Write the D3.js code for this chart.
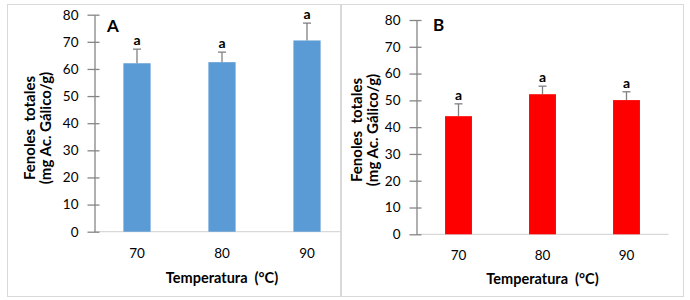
<!DOCTYPE html>
<meta charset="utf-8">
<script src="https://d3js.org/d3.v7.min.js"></script>
<style>
  body { margin: 0; background: #fff; }
  svg text { font-family: Lato, "Open Sans", sans-serif; }
</style>
<body>
<div id="canvas"></div>
<script>
  // datos
  var categorias = ["70", "80", "90"];
  var valoresA = [62.1, 62.5, 70.5];
  var erroresA = [5.2, 3.7, 6.4];
  var valoresB = [44.1, 52.3, 50.1];
  var erroresB = [4.6, 3.0, 3.1];
  var letrasA = ["a", "a", "a"];
  var letrasB = ["a", "a", "a"];
  var yTicks = [0, 10, 20, 30, 40, 50, 60, 70, 80];

  var width = 690, height = 300;

  var svg = d3.select('#canvas')
    .append("svg")
    .attr("width", width)
    .attr("height", height);

  // cada panel: caja, eje y, barras
  var paneles = [
    { letra: "A", valores: valoresA, errores: erroresA, letras: letrasA, color: "#5B9BD5",
      box: [7, 4, 340, 296], x0: 94.5, x1: 349.5, y0: 231.7, y1: 14.7, axisEnd: 340,
      titY1: 35, titY2: 51, titCy: 128, xLabY: 258, xTitY: 283, letraX: 107, letraY: 32 },
    { letra: "B", valores: valoresB, errores: erroresB, letras: letrasB, color: "#FF0000",
      box: [341, 4, 683, 296], x0: 416.5, x1: 668.5, y0: 234.3, y1: 20, axisEnd: 668.5,
      titY1: 362, titY2: 378, titCy: 130, xLabY: 260, xTitY: 284, letraX: 433, letraY: 31 }
  ];

  paneles.forEach(function(p) {
    var g = svg.append("g");

    // borde
    g.append("rect")
      .attr("x", p.box[0] + 0.5).attr("y", p.box[1] + 0.5)
      .attr("width", p.box[2] - p.box[0]).attr("height", p.box[3] - p.box[1])
      .attr("fill", "none").attr("stroke", "#d9d9d9");

    var x = d3.scaleBand()
      .domain(categorias)
      .range([p.x0, p.x1])
      .paddingInner(0.68)
      .paddingOuter(0.34);

    var y = d3.scaleLinear()
      .domain([0, 80])
      .range([p.y0, p.y1]);

    // eje x (linea gris clara)
    g.append("line")
      .attr("x1", p.x0).attr("x2", p.axisEnd)
      .attr("y1", y(0)).attr("y2", y(0))
      .attr("stroke", "#d9d9d9").attr("stroke-width", 1.3);

    var xAxis = d3.axisBottom(x).tickSize(0).tickPadding(0);
    var gx = g.append("g")
      .attr("transform", "translate(0," + (p.xLabY - 4) + ")")
      .call(xAxis);
    gx.select(".domain").remove();
    gx.selectAll("text")
      .attr("dy", "0.32em")
      .style("font-size", "13.5px")
      .attr("fill", "#000");

    // eje y
    var yAxis = d3.axisLeft(y).tickValues(yTicks).tickSizeOuter(0).tickPadding(10);
    var gy = g.append("g")
      .attr("transform", "translate(" + p.x0 + ",0)")
      .call(yAxis);
    gy.select(".domain").attr("stroke", "#868686").attr("stroke-width", 1.3);
    gy.selectAll(".tick line")
      .attr("x1", -7).attr("x2", 5)
      .attr("stroke", "#868686").attr("stroke-width", 1.3);
    gy.selectAll(".tick text")
      .attr("x", -16)
      .style("font-size", "13.5px")
      .attr("fill", "#000");

    // barras
    g.selectAll(".bar")
      .data(p.valores)
      .enter()
      .append("rect")
      .attr("x", function(d, i) { return x(categorias[i]); })
      .attr("width", x.bandwidth())
      .attr("y", function(d) { return y(d); })
      .attr("height", function(d) { return y(0) - y(d); })
      .attr("fill", p.color);

    // barras de error (solo hacia arriba)
    var err = g.selectAll(".err")
      .data(p.valores)
      .enter()
      .append("g")
      .attr("stroke", "#808080")
      .attr("stroke-width", 1.3);
    err.append("line")
      .attr("x1", function(d, i) { return x(categorias[i]) + x.bandwidth() / 2; })
      .attr("x2", function(d, i) { return x(categorias[i]) + x.bandwidth() / 2; })
      .attr("y1", function(d) { return y(d); })
      .attr("y2", function(d, i) { return y(d + p.errores[i]); });
    err.append("line")
      .attr("x1", function(d, i) { return x(categorias[i]) + x.bandwidth() / 2 - 4; })
      .attr("x2", function(d, i) { return x(categorias[i]) + x.bandwidth() / 2 + 4; })
      .attr("y1", function(d, i) { return y(d + p.errores[i]); })
      .attr("y2", function(d, i) { return y(d + p.errores[i]); });

    // letras de significancia
    g.selectAll(".sig")
      .data(p.valores)
      .enter()
      .append("text")
      .text(function(d, i) { return p.letras[i]; })
      .attr("x", function(d, i) { return x(categorias[i]) + x.bandwidth() / 2; })
      .attr("y", function(d, i) { return y(d + p.errores[i]) - 4; })
      .style("text-anchor", "middle")
      .style("font-size", "14px")
      .style("font-weight", "bold");

    // letra del panel
    g.append("text")
      .text(p.letra)
      .attr("x", p.letraX).attr("y", p.letraY)
      .style("font-size", "17px")
      .style("font-weight", "bold");

    // titulo eje x
    g.append("text")
      .text("Temperatura  (°C)")
      .attr("x", (p.x0 + p.x1) / 2)
      .attr("y", p.xTitY)
      .style("text-anchor", "middle")
      .style("font-size", "14.5px")
      .style("font-weight", "bold")
      .style("white-space", "pre");

    // titulo eje y (dos lineas)
    g.append("text")
      .text("Fenoles  totales")
      .attr("transform", "translate(" + p.titY1 + "," + p.titCy + ") rotate(-90)")
      .style("text-anchor", "middle")
      .style("font-size", "15px")
      .style("font-weight", "bold")
      .style("white-space", "pre");
    g.append("text")
      .text("(mg Ac. Gálico/g)")
      .attr("transform", "translate(" + p.titY2 + "," + p.titCy + ") rotate(-90)")
      .style("text-anchor", "middle")
      .style("font-size", "15px")
      .style("font-weight", "bold")
      .style("white-space", "pre");
  });
</script>
</body>
